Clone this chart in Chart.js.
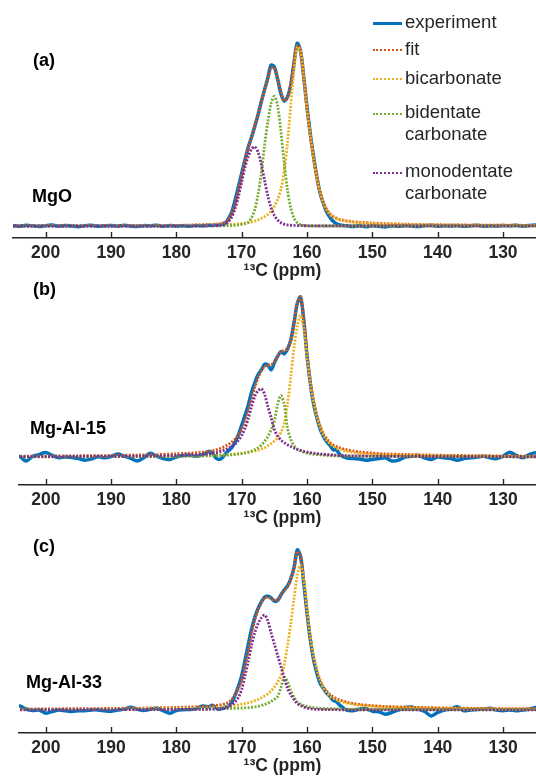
<!DOCTYPE html>
<html>
<head>
<meta charset="utf-8">
<title>13C NMR carbonate fits</title>
<script src="https://cdn.jsdelivr.net/npm/chart.js@4.4.1/dist/chart.umd.min.js"></script>
<style>
  html, body { margin: 0; padding: 0; background: #fff; overflow: hidden; }
  #page { position: relative; width: 536px; height: 779px; overflow: hidden;
          font-family: 'Liberation Sans', Arial, Helvetica, sans-serif; }
  #page canvas { position: absolute; left: 0; }
  .lbl { position: absolute; font-weight: bold; font-size: 18px; line-height: 20px;
         color: #000; white-space: nowrap; }
  .leg { position: absolute; left: 373px; font-size: 18.5px; line-height: 21.7px; color: #262626; }
  .leg .sw { position: absolute; left: 0; width: 29px; height: 0; }
  .leg .tx { display: block; margin-left: 32px; width: 115px; }
</style>
</head>
<body>
<div id="page">
  <canvas id="panelA"></canvas>
  <canvas id="panelB"></canvas>
  <canvas id="panelC"></canvas>

  <div class="lbl" style="left:33px; top:50px;">(a)</div>
  <div class="lbl" style="left:32px; top:186px;">MgO</div>
  <div class="lbl" style="left:33px; top:279px;">(b)</div>
  <div class="lbl" style="left:30px; top:418px;">Mg-Al-15</div>
  <div class="lbl" style="left:33px; top:536px;">(c)</div>
  <div class="lbl" style="left:26px; top:672px;">Mg-Al-33</div>

  <div id="legend"></div>
</div>

<script>
// ===== chemical shift grids (ppm) =====
// experiment: 1 ppm steps on the baseline, 0.5 ppm across the carbonate band
const PPM_EXP = [
  205, 204, 203, 202, 201, 200, 199, 198, 197, 196, 195, 194, 193, 192, 191, 190,
  189, 188, 187, 186, 185, 184, 183, 182, 181, 180, 179, 178, 177, 176, 175,
  174.5, 174, 173.5, 173, 172.5, 172, 171.5, 171, 170.5, 170, 169.5, 169, 168.5, 168,
  167.5, 167, 166.5, 166, 165.5, 165, 164.5, 164, 163.5, 163, 162.5, 162, 161.5, 161,
  160.5, 160, 159.5, 159, 158.5, 158, 157.5, 157, 156.5, 156, 155.5,
  155, 154, 153, 152, 151, 150, 149, 148, 147, 146, 145, 144, 143, 142, 141, 140,
  139, 138, 137, 136, 135, 134, 133, 132, 131, 130, 129, 128, 127, 126, 125, 124, 123, 122
];
// fit and components are smooth, so the baseline is sampled coarser
const PPM_FIT = [
  205, 200, 195, 190, 186, 183, 180, 178, 176, 175,
  174.5, 174, 173.5, 173, 172.5, 172, 171.5, 171, 170.5, 170, 169.5, 169, 168.5, 168,
  167.5, 167, 166.5, 166, 165.5, 165, 164.5, 164, 163.5, 163, 162.5, 162, 161.5, 161,
  160.5, 160, 159.5, 159, 158.5, 158, 157.5, 157, 156.5, 156, 155.5,
  155, 154, 153, 152, 150, 148, 145, 142, 138, 134, 130, 125, 122
];

const X_TICKS = [200, 190, 180, 170, 160, 150, 140, 130];
const SERIES_NAMES = ['experiment', 'fit', 'bicarbonate', 'bidentate carbonate', 'monodentate carbonate'];
const SERIES_COLORS = ['#0072BD', '#D95319', '#EDB120', '#77AC30', '#7E2F8E'];

// ===== (a) MgO — intensities, tallest experimental point = 100 =====
const EXP_A = [
  0.3, -0.2, 0.4, 0.1, -0.3, 0.2, 0.5, -0.1, 0.3, 0, -0.4, 0.2, 0.4, -0.2, 0.1, 0.3,
  -0.1, 0.4, 0, -0.3, 0.2, 0.1, 0.4, -0.2, 0.3, 0, 0.2, -0.2, 0.3, 0.1, 0.4,
  0.3, 0.5, 0.6, 0.9, 1.6, 4.2, 7.8, 14.2, 21.5, 28.8, 36.1, 43, 48.5, 54.5,
  60.8, 68, 74.5, 81, 88, 87, 80.5, 72.5, 68.5, 70.5, 77, 89, 100, 96,
  81.5, 65, 50.5, 38, 27, 18, 12.4, 7.8, 4.8, 2.6, 1.2,
  0.6, 0.2, -0.3, 0.1, -0.4, 0.2, -0.2, -0.5, 0.1, -0.2, 0.3, 0, -0.3, 0.2, 0.4, -0.1,
  0.2, 0, 0.3, -0.2, 0.1, 0.4, -0.1, 0.2, 0, 0.3, 0.1, 0.4, -0.1, 0.3, 0.5, 0.2, -0.1, 0.3
];
const FIT_A = [
  0.1, 0.15, 0.15, 0.2, 0.25, 0.3, 0.35, 0.5, 0.7, 0.85,
  0.9, 1.05, 1.25, 1.55, 2.2, 3.7, 6.8, 12, 19.5, 27.5, 35.5, 42.5, 48.5, 55,
  61, 67.5, 74.5, 80.5, 86.5, 86.5, 80.5, 73.5, 68.5, 70, 77, 89.5, 99, 96.5,
  81.5, 64.5, 50, 37.5, 27, 18.8, 13, 9.2, 6.7, 5.2, 4.3,
  3.6, 2.9, 2.4, 2.0, 1.6, 1.3, 1.0, 0.8, 0.6, 0.5, 0.45, 0.35, 0.3
];
const BICARB_A = [
  0.1, 0.15, 0.15, 0.2, 0.25, 0.3, 0.35, 0.4, 0.5, 0.55,
  0.6, 0.65, 0.7, 0.75, 0.8, 0.9, 0.95, 1.05, 1.15, 1.3, 1.5, 1.8, 2.2, 2.7,
  3.3, 4.1, 5.1, 6.4, 8.2, 10.8, 14.5, 20, 30, 45, 66, 85, 98, 96,
  81, 64, 49.5, 37, 26.5, 18.3, 12.6, 8.8, 6.3, 4.8, 3.9,
  3.3, 2.6, 2.1, 1.8, 1.4, 1.15, 0.9, 0.7, 0.55, 0.45, 0.4, 0.3, 0.28
];
const BIDENT_A = [
  0, 0, 0, 0, 0, 0, 0, 0, 0, 0.05,
  0.05, 0.05, 0.1, 0.1, 0.15, 0.2, 0.3, 0.4, 0.6, 0.9, 1.3, 2, 4.5, 9,
  17, 29, 44, 57, 67, 71, 66, 52, 35, 20, 10, 4.5, 1.8, 0.7,
  0.3, 0.15, 0.1, 0.05, 0, 0, 0, 0, 0, 0, 0,
  0, 0, 0, 0, 0, 0, 0, 0, 0, 0, 0, 0, 0
];
const MONO_A = [
  0, 0, 0, 0, 0, 0, 0, 0.05, 0.1, 0.15,
  0.2, 0.25, 0.35, 0.5, 1.0, 2.5, 5, 9.5, 16, 24, 32, 38, 42, 43.4,
  40.5, 34, 25, 16.5, 10, 5.8, 3.3, 1.8, 1, 0.6, 0.4, 0.3, 0.2, 0.2,
  0.15, 0.1, 0.1, 0.1, 0.1, 0.1, 0.1, 0.1, 0.1, 0.1, 0.1,
  0.1, 0.1, 0.1, 0.1, 0.1, 0.05, 0.05, 0.05, 0.05, 0.05, 0.05, 0.05, 0.05
];

// ===== (b) Mg-Al-15 =====
const EXP_B = [
  0, 0.2, -2.5, 0.5, 1.5, 2.8, 1, -0.5, 0, -0.3, -1, -2, -1.2, 0.2, -0.5, 0.3,
  1.8, 0.5, -0.8, -2.5, -0.5, 2.3, 0.5, -1, -1.5, 0, 1, 1.2, 0.5, 1.5, 3.5,
  2.5, -0.5, -1.5, -0.5, 2, 4, 6, 9.5, 14, 20, 26, 32.5, 40.5, 46.5,
  51.5, 54.5, 58, 57.5, 54.5, 59, 63, 65.8, 64.5, 67.5, 73, 84, 96, 100,
  85, 63, 46, 33, 24.5, 17.5, 12.8, 9.5, 7.3, 4.5, 4.5,
  1.5, -0.5, -1, -1.2, -2, -1.5, -1, -0.5, -2.5, -2, 0, 0.5, 1, -0.5, -1.5, 0,
  -0.5, -1, -2, -1, -0.5, 0, 0.5, -0.5, -1, 0.5, 3, 1, -0.5, 1.5, 2.7, 1, -0.5, 0.5
];
const FIT_B = [
  0.5, 0.6, 0.75, 0.95, 1.2, 1.5, 2.0, 2.4, 3.0, 3.4,
  3.8, 4.3, 5.0, 5.8, 6.8, 8.0, 9.4, 11.3, 13.8, 17.5, 22.5, 29, 36.5, 43.5,
  49.5, 54, 56.5, 57.3, 57.5, 59.5, 63, 66, 66.5, 67.5, 73, 84, 96, 100,
  86, 64, 47, 35, 26, 19.5, 14.5, 11.5, 9.2, 7.6, 6.6,
  5.8, 4.6, 3.8, 3.2, 2.5, 2.0, 1.6, 1.3, 1.0, 0.85, 0.7, 0.55, 0.5
];
const BICARB_B = [
  0.15, 0.2, 0.25, 0.3, 0.4, 0.5, 0.6, 0.75, 0.9, 1.0,
  1.05, 1.1, 1.2, 1.3, 1.4, 1.55, 1.7, 1.9, 2.1, 2.35, 2.6, 2.9, 3.3, 3.7,
  4.2, 4.9, 5.8, 7.0, 8.4, 10.0, 12.2, 15.5, 21, 33, 50, 68.5, 82, 88.5,
  80, 62, 46, 34, 25, 18.5, 13.5, 10.5, 8.3, 6.8, 5.6,
  4.6, 3.6, 2.9, 2.4, 1.8, 1.4, 1.05, 0.85, 0.65, 0.5, 0.4, 0.3, 0.28
];
const BIDENT_B = [
  0.1, 0.12, 0.15, 0.2, 0.25, 0.3, 0.4, 0.5, 0.6, 0.7,
  0.75, 0.8, 0.9, 1.0, 1.1, 1.25, 1.4, 1.6, 1.85, 2.1, 2.5, 3.0, 3.7, 4.6,
  5.8, 7.5, 9.8, 12.8, 17, 22.5, 33, 38.5, 33, 18, 11, 7, 5, 3.8,
  3.0, 2.4, 2.0, 1.7, 1.5, 1.3, 1.15, 1.0, 0.9, 0.8, 0.7,
  0.6, 0.55, 0.5, 0.45, 0.4, 0.35, 0.3, 0.25, 0.2, 0.2, 0.15, 0.12, 0.1
];
const MONO_B = [
  0.22, 0.26, 0.32, 0.42, 0.55, 0.7, 0.95, 1.2, 1.6, 1.9,
  2.2, 2.6, 3.1, 3.8, 4.6, 5.6, 6.7, 8.2, 10.5, 13.5, 18, 24, 31.5, 38,
  41.5, 42.7, 39, 31.5, 24.5, 17, 13, 10.5, 9, 7.7, 6.6, 5.6, 4.8, 4.2,
  3.6, 3.1, 2.7, 2.4, 2.1, 1.9, 1.7, 1.5, 1.4, 1.25, 1.15,
  0.9, 0.8, 0.7, 0.65, 0.55, 0.45, 0.38, 0.3, 0.25, 0.2, 0.18, 0.15, 0.14
];

// ===== (c) Mg-Al-33 =====
const EXP_C = [
  2, 2.5, 0.5, -0.3, 0, -2, -1, 0, -0.5, -1, -0.5, -0.5, 0, 0, -0.5, -0.8,
  0, 0.5, 1.7, 0.5, -0.3, 0.5, 1, -0.5, -2, -0.3, 0.2, 0.3, 0.8, 2.5, 2,
  3, 1.5, 0.5, 1, 1.8, 2.5, 5.2, 9.5, 15, 21.5, 31, 41, 50.5, 58,
  63.5, 67.5, 70.5, 71, 70, 68, 68.5, 72, 75, 77.5, 82, 89, 100, 96,
  79, 60.4, 43.8, 31.3, 23, 16.7, 13.5, 10.5, 8.5, 6, 5,
  3, 0, -0.5, 0.5, 0.8, -0.8, -1.2, -2.7, -1.5, 0, 1.5, 1.8, 0.5, -1, -3.7, -1.5,
  0, 0.5, 2, -0.5, 0, 0.3, 0.5, 1, 0, -0.5, 0, -0.5, 0, 0.5, 1.5, 0.5, 0, 0.5
];
const FIT_C = [
  0.6, 0.7, 0.8, 1.0, 1.15, 1.35, 1.6, 1.85, 2.15, 2.4,
  2.6, 2.8, 3.05, 3.4, 3.9, 5.0, 6.9, 9.5, 13.5, 19, 28, 37.5, 47.5, 56,
  62.5, 67, 70, 70.5, 69.5, 68.5, 69, 72, 74.5, 77, 81.5, 88.5, 99, 96.5,
  80, 61, 44.5, 32.5, 24.5, 18.5, 14.3, 11.9, 9.6, 8.2, 7.1,
  6.2, 5.0, 4.1, 3.5, 2.7, 2.2, 1.8, 1.5, 1.2, 1.0, 0.85, 0.75, 0.7
];
const BICARB_C = [
  0.3, 0.35, 0.4, 0.5, 0.6, 0.7, 0.85, 1.0, 1.15, 1.3,
  1.45, 1.55, 1.7, 1.85, 2.05, 2.3, 2.55, 2.85, 3.2, 3.6, 4.0, 4.5, 5.1, 5.8,
  6.6, 7.6, 8.8, 10, 12, 14.3, 17.5, 21.5, 28.5, 40, 54, 69.5, 84, 90.5,
  81, 62.5, 45.8, 33.3, 25.5, 18.7, 13.5, 11, 8.6, 7.3, 6.3,
  5.5, 4.4, 3.6, 3.0, 2.3, 1.9, 1.5, 1.2, 0.95, 0.8, 0.65, 0.55, 0.5
];
const BIDENT_C = [
  0.2, 0.22, 0.25, 0.3, 0.35, 0.4, 0.45, 0.5, 0.6, 0.65,
  0.7, 0.72, 0.75, 0.8, 0.85, 0.9, 0.95, 1.0, 1.1, 1.2, 1.35, 1.5, 1.7, 1.95,
  2.3, 2.8, 3.4, 4.2, 5.3, 6.6, 8.5, 14, 20.5, 18, 12, 8, 5, 3.8,
  2.7, 2.1, 1.7, 1.45, 1.2, 1.05, 0.95, 0.85, 0.78, 0.72, 0.67,
  0.62, 0.55, 0.5, 0.45, 0.4, 0.35, 0.3, 0.27, 0.24, 0.22, 0.2, 0.18, 0.17
];
const MONO_C = [
  0.1, 0.12, 0.15, 0.18, 0.2, 0.25, 0.3, 0.35, 0.4, 0.45,
  0.5, 0.55, 0.6, 0.7, 1.0, 2.1, 3.4, 5.2, 8, 13, 21.5, 30.5, 40.5, 48.5,
  54, 57.5, 59.4, 55.5, 48, 41, 34, 27, 20, 13.5, 9.5, 6.5, 4, 2.8,
  1.8, 1.2, 0.8, 0.5, 0.4, 0.3, 0.25, 0.2, 0.2, 0.15, 0.15,
  0.1, 0.1, 0.1, 0.1, 0.1, 0.08, 0.08, 0.06, 0.05, 0.05, 0.04, 0.04, 0.04
];

// ===== panel layout (canvas box, axis range, vertical scaling) =====
// canvases run a little past the right edge so the axis continues out of view;
// the x axis block below each plot is 42px tall
const PANELS = [
  { id: 'panelA', top: 0,   width: 552, height: 280, left: 13, xMax: 205,   xMin: 122.5,
    yMin: -6.57, yMax: 123.7, series: [EXP_A, FIT_A, BICARB_A, BIDENT_A, MONO_A] },
  { id: 'panelB', top: 275, width: 546, height: 252, left: 19, xMax: 204.1, xMin: 123.43,
    yMin: -17.5, yMax: 113.75, series: [EXP_B, FIT_B, BICARB_B, BIDENT_B, MONO_B] },
  { id: 'panelC', top: 525, width: 546, height: 250, left: 19, xMax: 204.1, xMin: 123.43,
    yMin: -14.4, yMax: 115.6, series: [EXP_C, FIT_C, BICARB_C, BIDENT_C, MONO_C] }
];

const AXIS = '#262626';
Chart.defaults.font.family = "'Liberation Sans', Arial, Helvetica, sans-serif";

// tick marks point up into the plot, like the original axes
const innerTicks = {
  id: 'innerTicks',
  afterDraw(chart) {
    const { ctx, chartArea, scales: { x } } = chart;
    ctx.save();
    ctx.strokeStyle = AXIS;
    ctx.lineWidth = 1.4;
    x.ticks.forEach((t) => {
      const px = Math.round(x.getPixelForValue(t.value)) + 0.5;
      ctx.beginPath();
      ctx.moveTo(px, chartArea.bottom);
      ctx.lineTo(px, chartArea.bottom - 6);
      ctx.stroke();
    });
    ctx.restore();
  }
};

const toPoints = (xs, ys) => xs.map((x, i) => ({ x, y: ys[i] }));

PANELS.forEach((p) => {
  const canvas = document.getElementById(p.id);
  canvas.width = p.width;
  canvas.height = p.height;
  canvas.style.top = p.top + 'px';

  // experiment at the bottom, monodentate on top (lower order draws later)
  const datasets = p.series.map((ys, i) => ({
    label: SERIES_NAMES[i],
    data: toPoints(i === 0 ? PPM_EXP : PPM_FIT, ys),
    borderColor: SERIES_COLORS[i],
    borderWidth: i === 0 ? 3.5 : 2.8,
    borderDash: i === 0 ? [] : [2, 1.5],
    borderCapStyle: 'butt',
    pointRadius: 0,
    tension: 0.3,
    fill: false,
    order: 5 - i
  }));

  new Chart(canvas, {
    type: 'line',
    data: { datasets },
    options: {
      responsive: false,
      animation: false,
      devicePixelRatio: 1,
      layout: { padding: { left: p.left, right: 0, top: 0, bottom: 0 } },
      plugins: { legend: { display: false }, tooltip: { enabled: false } },
      scales: {
        x: {
          type: 'linear',
          reverse: true,
          min: p.xMin,
          max: p.xMax,
          afterBuildTicks: (scale) => { scale.ticks = X_TICKS.map((v) => ({ value: v })); },
          grid: { display: false, drawTicks: false },
          border: { display: true, color: AXIS, width: 1.4 },
          ticks: { color: AXIS, padding: 6, maxRotation: 0, autoSkip: false,
                   font: { size: 17.5, weight: 'bold', lineHeight: 1.0 } },
          title: { display: true, text: '¹³C (ppm)', color: AXIS,
                   padding: { top: -5, bottom: 0 },
                   font: { size: 17.5, weight: 'bold', lineHeight: 1.0 } }
        },
        y: { display: false, min: p.yMin, max: p.yMax }
      }
    },
    plugins: [innerTicks]
  });
});

// ===== legend =====
const LEGEND_TOPS = [10.5, 37.5, 66.5, 101, 160];
const legend = document.getElementById('legend');
SERIES_NAMES.forEach((name, i) => {
  const row = document.createElement('div');
  row.className = 'leg';
  row.style.top = LEGEND_TOPS[i] + 'px';
  const sw = document.createElement('span');
  sw.className = 'sw';
  if (i === 0) {
    sw.style.borderTop = `3px solid ${SERIES_COLORS[i]}`;
    sw.style.top = '11px';
  } else {
    sw.style.borderTop = `2px dotted ${SERIES_COLORS[i]}`;
    sw.style.top = '11.5px';
  }
  const tx = document.createElement('span');
  tx.className = 'tx';
  tx.textContent = name;
  row.appendChild(sw);
  row.appendChild(tx);
  legend.appendChild(row);
});
</script>
</body>
</html>
